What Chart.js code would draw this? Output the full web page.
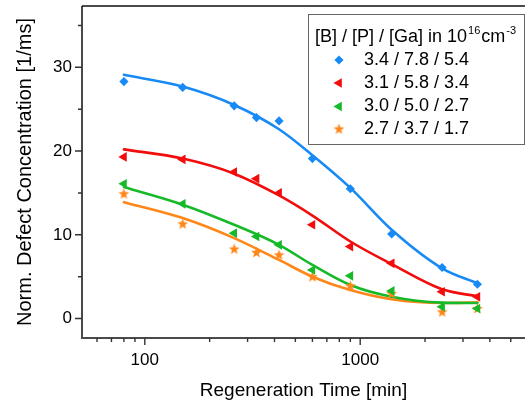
<!DOCTYPE html>
<html><head><meta charset="utf-8">
<script src="https://cdn.jsdelivr.net/npm/chart.js@4"></script>
<style>html,body{margin:0;padding:0;background:#fff;overflow:hidden}</style>
</head><body>
<canvas id="c" width="531" height="407"></canvas>
<script>
// ---- data ----
const regenTime = [80, 150, 260, 330, 420, 600, 900, 1400, 2400, 3500];
const seriesNames = ['3.4 / 7.8 / 5.4', '3.1 / 5.8 / 3.4', '3.0 / 5.0 / 2.7', '2.7 / 3.7 / 1.7'];
const defectsA = [28.3, 27.6, 25.4, 24.0, 23.6, 19.1, 15.5, 10.1, 6.1, 4.1];
const defectsB = [19.3, 19.0, 17.5, 16.7, 15.0, 11.2, 8.6, 6.6, 3.2, 2.6];
const defectsC = [16.1, 13.7, 10.2, 9.8, 8.8, 5.8, 5.1, 3.3, 1.4, 1.2];
const defectsD = [14.9, 11.3, 8.3, 7.9, 7.6, 5.0, 3.9, 3.0, 0.8, 1.2];
const fitTime = [80, 150, 260, 420, 600, 900, 1400, 2400, 3500];
const fitA = [29.1, 27.7, 25.5, 22.6, 19.5, 15.6, 10.6, 6.0, 4.2];
const fitB = [20.2, 19.1, 17.3, 14.7, 12.3, 9.2, 6.5, 3.5, 2.65];
const fitC = [15.7, 13.6, 11.2, 8.8, 6.4, 4.0, 2.6, 1.9, 1.85];
const fitD = [13.9, 12.0, 9.6, 7.0, 5.0, 3.4, 2.3, 1.85, 1.95];
const xMajorTicks = [100, 1000];
const xMinorTicks = [60, 70, 80, 90, 200, 300, 400, 500, 600, 700, 800, 900, 2000, 3000, 4000, 5000];
const yMajorTicks = [0, 10, 20, 30];
const yMinorTicks = [5, 15, 25, 35];
const legendTitle = ['[B] / [P] / [Ga] in 10', '16', 'cm', '-3'];

const FONT = "'Liberation Sans', Arial, sans-serif";
Chart.defaults.font.family = FONT;
const COLORS = ['rgb(24,138,245)', 'rgb(242,12,12)', 'rgb(22,186,40)', 'rgb(255,135,25)'];

function makeStar(color) {
  const c = document.createElement('canvas');
  c.width = 13; c.height = 13;
  const g = c.getContext('2d');
  g.fillStyle = color;
  g.beginPath();
  for (let i = 0; i < 10; i++) {
    const r = i % 2 === 0 ? 5.7 : 2.4;
    const a = -Math.PI / 2 + i * Math.PI / 5;
    const px = 6.5 + r * Math.cos(a), py = 6.8 + r * Math.sin(a);
    if (i === 0) g.moveTo(px, py); else g.lineTo(px, py);
  }
  g.closePath(); g.fill();
  return c;
}
const starImg = makeStar(COLORS[3]);

const pts = (xs, ys) => xs.map((x, i) => ({x, y: ys[i]}));
const markerDefs = [
  {pointStyle: 'rectRot', pointRadius: 4.6, rotation: 0},
  {pointStyle: 'triangle', pointRadius: 5.6, rotation: 270},
  {pointStyle: 'triangle', pointRadius: 5.6, rotation: 270},
  {pointStyle: starImg, pointRadius: 6, rotation: 0}
];
const seriesData = [defectsA, defectsB, defectsC, defectsD];
const fitData = [fitA, fitB, fitC, fitD];

const datasets = [];
seriesData.forEach((d, i) => {
  datasets.push({
    label: seriesNames[i], data: pts(regenTime, d), showLine: false, order: i,
    pointStyle: markerDefs[i].pointStyle, pointRadius: markerDefs[i].pointRadius,
    pointRotation: markerDefs[i].rotation,
    backgroundColor: COLORS[i], borderColor: COLORS[i], pointBorderWidth: 0
  });
});
fitData.forEach((d, i) => {
  datasets.push({
    label: 'fit ' + seriesNames[i], data: pts(fitTime, d), showLine: true, order: 10 + i,
    pointRadius: 0, borderColor: COLORS[i], borderWidth: 2.6, fill: false,
    cubicInterpolationMode: 'monotone', borderCapStyle: 'round'
  });
});

const framePlugin = {
  id: 'frame',
  beforeDatasetsDraw(chart) {
    const {ctx, chartArea: a, scales: {x, y}} = chart;
    ctx.save();
    ctx.strokeStyle = '#4a4a4a';
    ctx.lineWidth = 2;
    ctx.beginPath();
    ctx.moveTo(a.left, a.top); ctx.lineTo(a.left, a.bottom + 1);
    ctx.moveTo(a.left - 1, a.bottom); ctx.lineTo(a.right, a.bottom);
    ctx.stroke();
    ctx.strokeStyle = '#111';
    ctx.lineWidth = 1.5;
    ctx.beginPath(); ctx.moveTo(a.left, a.top); ctx.lineTo(a.right, a.top); ctx.stroke();
    ctx.strokeStyle = '#333';
    ctx.lineWidth = 1.4;
    ctx.beginPath();
    yMajorTicks.forEach(v => { const p = y.getPixelForValue(v); ctx.moveTo(a.left - 7, p); ctx.lineTo(a.left, p); });
    yMinorTicks.forEach(v => { const p = y.getPixelForValue(v); ctx.moveTo(a.left - 4, p); ctx.lineTo(a.left, p); });
    xMajorTicks.forEach(v => { const p = x.getPixelForValue(v); ctx.moveTo(p, a.bottom); ctx.lineTo(p, a.bottom + 7); });
    xMinorTicks.forEach(v => { const p = x.getPixelForValue(v); ctx.moveTo(p, a.bottom); ctx.lineTo(p, a.bottom + 4); });
    ctx.stroke();
    ctx.restore();
  }
};

const legendPlugin = {
  id: 'boxLegend',
  afterDraw(chart) {
    const ctx = chart.ctx;
    ctx.save();
    ctx.fillStyle = '#fff';
    ctx.fillRect(308.5, 14.5, 216, 130);
    ctx.strokeStyle = '#666'; ctx.lineWidth = 1;
    ctx.strokeRect(308.5, 14.5, 216, 130);
    ctx.fillStyle = '#000';
    ctx.textBaseline = 'middle'; ctx.textAlign = 'left';
    let tx = 315; const ty = 37;
    ctx.font = '18px ' + FONT;
    ctx.fillText(legendTitle[0], tx, ty); tx += ctx.measureText(legendTitle[0]).width + 1;
    ctx.font = '11px ' + FONT;
    ctx.fillText(legendTitle[1], tx, ty - 6); tx += ctx.measureText(legendTitle[1]).width + 1;
    ctx.font = '18px ' + FONT;
    ctx.fillText(legendTitle[2], tx, ty); tx += ctx.measureText(legendTitle[2]).width + 1;
    ctx.font = '11px ' + FONT;
    ctx.fillText(legendTitle[3], tx, ty - 6);
    const rows = [60, 83, 106.5, 129];
    ctx.font = '18px ' + FONT;
    seriesNames.forEach((name, i) => {
      const yy = rows[i];
      const m = markerDefs[i];
      if (m.pointStyle instanceof HTMLCanvasElement) {
        ctx.drawImage(m.pointStyle, 339 - m.pointStyle.width / 2, yy - m.pointStyle.height / 2);
      } else {
        ctx.fillStyle = COLORS[i]; ctx.strokeStyle = COLORS[i];
        Chart.helpers.drawPoint(ctx, {pointStyle: m.pointStyle, radius: m.pointRadius, rotation: m.rotation, borderWidth: 0}, 339, yy);
      }
      ctx.fillStyle = '#000';
      ctx.fillText(name, 364, yy);
    });
    ctx.restore();
  }
};

new Chart(document.getElementById('c'), {
  type: 'scatter',
  data: {datasets},
  plugins: [framePlugin, legendPlugin],
  options: {
    responsive: false, animation: false, devicePixelRatio: 1,
    layout: {padding: {top: 5, right: 0, left: 0, bottom: 0}},
    plugins: {legend: {display: false}, tooltip: {enabled: false}},
    scales: {
      x: {
        type: 'logarithmic', position: 'bottom', min: 51.1, max: 5822,
        afterBuildTicks: s => { s.ticks = xMajorTicks.map(v => ({value: v})); },
        ticks: {callback: v => String(v), font: {size: 17}, color: '#000', padding: 12, maxRotation: 0, autoSkip: false},
        grid: {display: false, drawTicks: false}, border: {display: false},
        title: {display: true, text: 'Regeneration Time [min]', font: {size: 19}, color: '#000', padding: {top: 0, bottom: 5}},
        afterFit: s => { s.height = 69; s.paddingLeft = 0; s.paddingRight = 0; }
      },
      y: {
        type: 'linear', position: 'left', min: -2.32, max: 37.32,
        afterBuildTicks: s => { s.ticks = yMajorTicks.map(v => ({value: v})); },
        ticks: {callback: v => String(v), font: {size: 17}, color: '#000', padding: 10},
        grid: {display: false, drawTicks: false}, border: {display: false},
        title: {display: true, text: 'Norm. Defect Concentration [1/ms]', font: {size: 20}, color: '#000', padding: {top: 13, bottom: 0}},
        afterFit: s => { s.width = 82; s.paddingTop = 0; s.paddingBottom = 0; }
      }
    }
  }
});
</script>
</body></html>
